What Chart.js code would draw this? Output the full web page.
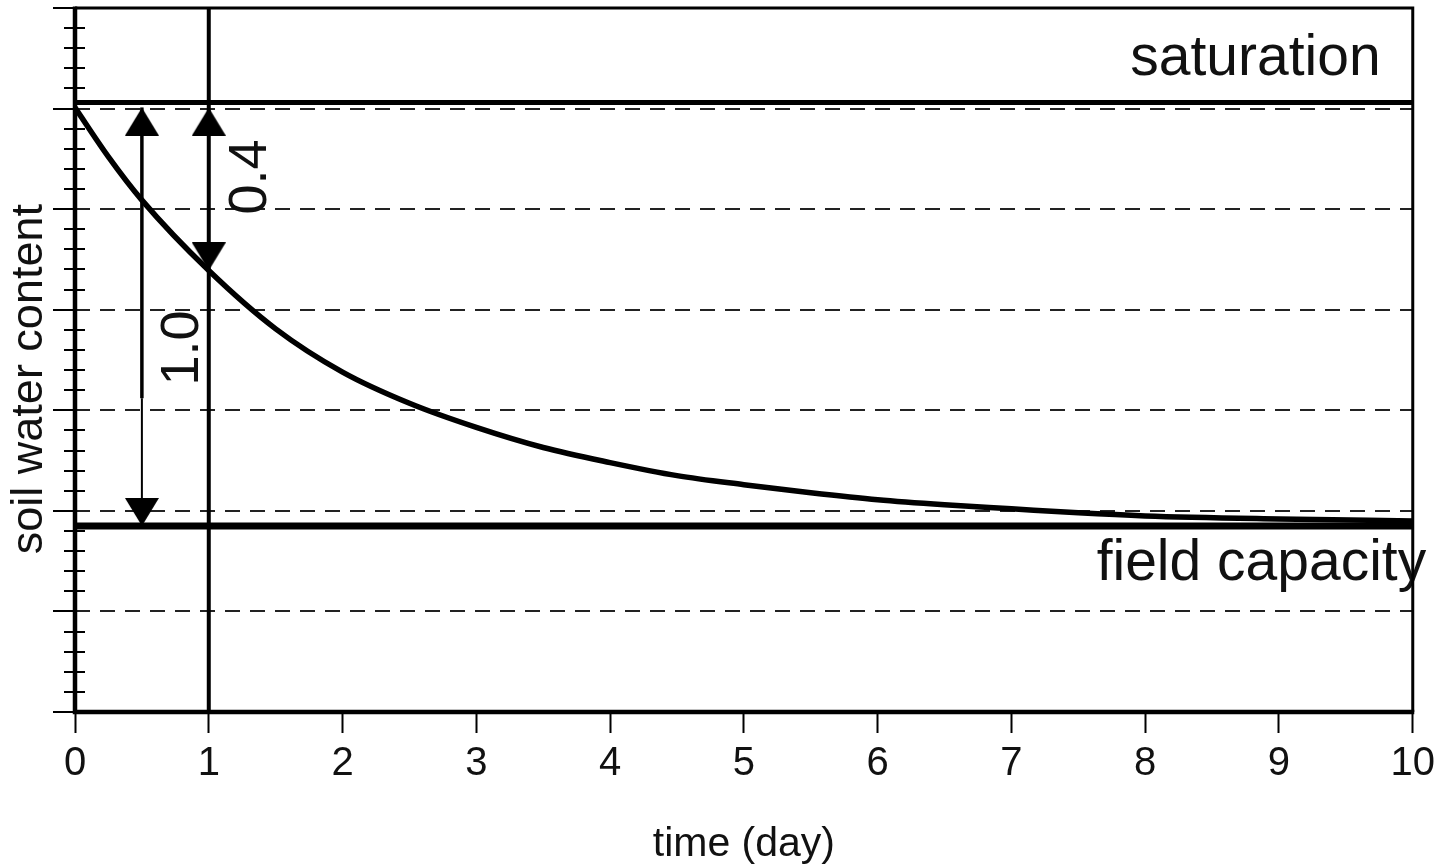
<!DOCTYPE html>
<html><head><meta charset="utf-8">
<script src="https://cdn.jsdelivr.net/npm/chart.js@4"></script>
<style>html,body{margin:0;padding:0;background:#fff;overflow:hidden}</style>
</head><body>
<canvas id="c" width="1442" height="865" style="display:block;width:1442px;height:865px"></canvas>
<script>
// ---- data ----
const days       = [0, 0.25, 0.5, 1, 1.5, 2, 2.5, 3, 3.5, 4, 4.5, 5, 5.5, 6, 6.5, 7, 7.5, 8, 9, 10];
const soilWater  = [6.01, 5.52, 5.09, 4.39, 3.81, 3.38, 3.07, 2.83, 2.63, 2.48, 2.35, 2.26, 2.18, 2.11, 2.06, 2.02, 1.98, 1.95, 1.92, 1.90];
const saturationLevel    = 6.06;
const fieldCapacityLevel = 1.85;
const xRange = [0, 10];
const yRange = [0, 7];
const xTickStep = 1;
const yMajorStep = 1;
const yMinorStep = 0.2;
const arrowTop = 6.01;             // arrow tips just under the saturation line
const arrowTotalX = 0.5;           // arrow marked "1.0"
const arrowTotalThickEnd = 3.12;   // shaft becomes thinner below this value
const arrowDayX = 1;               // arrow marked "0.4"
const arrowDayEnd = 4.39;
const dayLineX = 1;
const labelTexts = ['saturation', 'field capacity', '0.4', '1.0'];
const axisTitles = ['time (day)', 'soil water content'];

// ---- arrow head images (tip at the image centre) ----
function arrowHead(dir) {
  const w = 34, h = 28;
  const cv = document.createElement('canvas');
  cv.width = w; cv.height = 2 * h;
  const g = cv.getContext('2d');
  g.fillStyle = '#000';
  g.beginPath();
  if (dir === 'up') { g.moveTo(w / 2, h); g.lineTo(0, 2 * h); g.lineTo(w, 2 * h); }
  else { g.moveTo(w / 2, h); g.lineTo(0, 0); g.lineTo(w, 0); }
  g.closePath(); g.fill();
  return cv;
}
const upHead = arrowHead('up'), downHead = arrowHead('down');

const FONT = '"Liberation Sans", Arial, sans-serif';
const isMajor = v => Math.abs(v - Math.round(v)) < 1e-6;

const overlay = {
  id: 'overlay',
  afterDatasetsDraw(chart) {
    const {ctx, chartArea: a, scales: {x, y}} = chart;
    ctx.save();
    ctx.fillStyle = '#111';
    ctx.font = '57px ' + FONT;
    ctx.textAlign = 'right';
    ctx.textBaseline = 'alphabetic';
    ctx.fillText(labelTexts[0], x.getPixelForValue(9.76), y.getPixelForValue(6.33));
    ctx.fillText(labelTexts[1], x.getPixelForValue(10.1), y.getPixelForValue(1.31));
    ctx.font = '54px ' + FONT;
    ctx.textAlign = 'center';
    ctx.textBaseline = 'middle';
    [[labelTexts[2], 1.32, 5.32], [labelTexts[3], 0.81, 3.62]].forEach(([t, vx, vy]) => {
      ctx.save();
      ctx.translate(x.getPixelForValue(vx), y.getPixelForValue(vy));
      ctx.rotate(-Math.PI / 2);
      ctx.fillText(t, 0, 0);
      ctx.restore();
    });
    // y axis title
    ctx.font = '45px ' + FONT;
    ctx.save();
    ctx.translate(30, y.getPixelForValue(3.31));
    ctx.rotate(-Math.PI / 2);
    ctx.fillText(axisTitles[1], 0, 0);
    ctx.restore();
    // plot frame
    ctx.strokeStyle = '#000';
    ctx.lineWidth = 3;
    ctx.beginPath();
    ctx.moveTo(a.left, a.top); ctx.lineTo(a.right, a.top); ctx.lineTo(a.right, a.bottom);
    ctx.stroke();
    ctx.lineWidth = 4.5;
    ctx.beginPath();
    ctx.moveTo(a.left, a.top - 1.5); ctx.lineTo(a.left, a.bottom); ctx.lineTo(a.right + 1.5, a.bottom);
    ctx.stroke();
    ctx.restore();
  }
};

const curve = days.map((d, i) => ({x: d, y: soilWater[i]}));

new Chart(document.getElementById('c'), {
  type: 'line',
  data: {
    datasets: [
      { data: [{x: xRange[0], y: saturationLevel}, {x: xRange[1], y: saturationLevel}],
        borderColor: '#000', borderWidth: 5, pointRadius: 0 },
      { data: [{x: xRange[0], y: fieldCapacityLevel}, {x: xRange[1], y: fieldCapacityLevel}],
        borderColor: '#000', borderWidth: 7, pointRadius: 0 },
      { data: [{x: dayLineX, y: yRange[0]}, {x: dayLineX, y: yRange[1]}],
        borderColor: '#000', borderWidth: 4, pointRadius: 0 },
      { data: curve, borderColor: '#000', borderWidth: 5.5, pointRadius: 0,
        cubicInterpolationMode: 'monotone' },
      { data: [{x: arrowTotalX, y: arrowTop}, {x: arrowTotalX, y: arrowTotalThickEnd}, {x: arrowTotalX, y: fieldCapacityLevel}],
        borderColor: '#000', borderWidth: 3,
        segment: { borderWidth: c => c.p0DataIndex === 0 ? 3.5 : 2 },
        pointStyle: [upHead, 'circle', downHead], pointRadius: [1, 0, 1] },
      { data: [{x: arrowDayX, y: arrowTop}, {x: arrowDayX, y: arrowDayEnd}],
        borderColor: '#000', borderWidth: 0,
        pointStyle: [upHead, downHead], pointRadius: [1, 1] }
    ]
  },
  options: {
    responsive: false,
    animation: false,
    events: [],
    layout: { padding: { top: 8, right: 26, left: 0, bottom: 0 } },
    plugins: { legend: { display: false }, tooltip: { enabled: false } },
    scales: {
      x: {
        type: 'linear', min: xRange[0], max: xRange[1],
        ticks: { stepSize: xTickStep, color: '#111', font: { family: FONT, size: 40 }, padding: 7, maxRotation: 0, autoSkip: false },
        grid: { drawOnChartArea: false, tickLength: 21, tickColor: '#000', tickWidth: 2 },
        border: { display: false },
        title: { display: true, text: axisTitles[0], color: '#111', font: { family: FONT, size: 41, lineHeight: 1 }, padding: { top: 0, bottom: 0 } },
        afterFit(s) { s.height = 153; }
      },
      y: {
        type: 'linear', position: 'left', weight: 1, min: yRange[0], max: yRange[1],
        ticks: { display: false, stepSize: yMajorStep },
        grid: {
          color: c => (c.tick && c.tick.value > yRange[0] && c.tick.value < yRange[1]) ? '#222' : 'rgba(0,0,0,0)',
          lineWidth: 2, tickLength: 22, tickColor: '#000', tickWidth: 2
        },
        border: { display: false, dash: [15, 10] },
        afterFit(s) { s.width = 75; }
      },
      y2: {
        type: 'linear', position: 'left', weight: 0, min: yRange[0], max: yRange[1],
        ticks: { display: false, stepSize: yMinorStep },
        grid: {
          color: c => (c.tick && !isMajor(c.tick.value)) ? '#000' : 'rgba(0,0,0,0)',
          tickColor: c => (c.tick && !isMajor(c.tick.value)) ? '#000' : 'rgba(0,0,0,0)',
          lineWidth: 2, tickWidth: 2, tickLength: 11
        },
        border: { display: false, dash: [10, 4000] },
        afterFit(s) { s.width = 0; }
      }
    }
  },
  plugins: [overlay]
});
</script>
</body></html>
